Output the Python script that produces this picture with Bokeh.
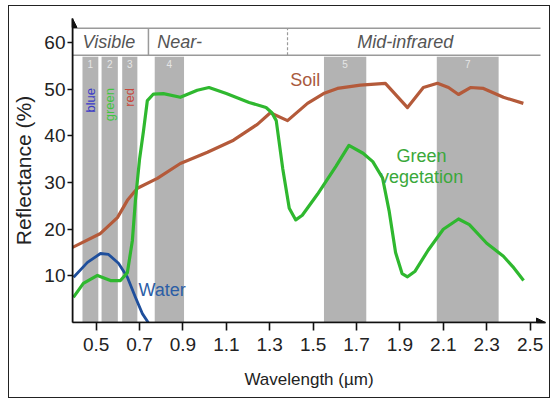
import math
from bokeh.plotting import figure
from bokeh.models import FixedTicker, Range1d, Arrow, NormalHead, Label
from bokeh.embed import file_html
from bokeh.resources import INLINE

# ---------------- data ----------------
green_wl = [0.395, 0.441, 0.506, 0.566, 0.612, 0.644, 0.667, 0.681, 0.700, 0.718, 0.736, 0.764,
            0.810, 0.888, 0.966, 1.020, 1.100, 1.205, 1.283, 1.310, 1.330, 1.360, 1.390, 1.420,
            1.450, 1.520, 1.605, 1.665, 1.730, 1.775, 1.820, 1.850, 1.880, 1.910, 1.935, 1.970,
            2.030, 2.100, 2.170, 2.220, 2.300, 2.377, 2.420, 2.470]
green_refl = [5.4, 8.4, 10.1, 9.0, 9.0, 10.7, 17.6, 26.2, 35.0, 41.0, 47.6, 49.0,
              49.1, 48.3, 49.8, 50.4, 49.1, 47.2, 46.1, 45.0, 43.3, 33.0, 24.5, 22.0,
              23.0, 27.5, 33.5, 38.0, 36.3, 34.5, 31.0, 24.0, 15.0, 10.5, 9.8, 11.0,
              15.5, 20.0, 22.2, 21.0, 17.0, 14.2, 12.0, 9.0]

soil_wl = [0.391, 0.520, 0.598, 0.644, 0.690, 0.782, 0.888, 1.013, 1.133, 1.243, 1.303,
           1.382, 1.474, 1.548, 1.612, 1.718, 1.833, 1.935, 2.008, 2.073, 2.124, 2.170,
           2.225, 2.285, 2.377, 2.469]
soil_refl = [16.1, 19.1, 22.5, 26.2, 28.8, 30.9, 34.1, 36.5, 39.1, 42.5, 45.0,
             43.3, 47.0, 49.1, 50.2, 50.9, 51.3, 46.1, 50.4, 51.3, 50.4, 48.9,
             50.4, 50.2, 48.3, 47.0]

water_wl = [0.396, 0.460, 0.520, 0.557, 0.603, 0.644, 0.681, 0.713, 0.740]
water_refl = [9.7, 12.9, 14.8, 14.6, 12.7, 9.7, 5.4, 1.9, 0.0]

band_names = ["1", "2", "3", "4", "5", "7"]
band_left = [0.437, 0.525, 0.620, 0.770, 1.550, 2.070]
band_right = [0.510, 0.600, 0.690, 0.905, 1.745, 2.355]
visible_names = ["blue", "green", "red"]
visible_colors = ["#3b3bc8", "#3fc63f", "#c8463a"]

region_names = ["Visible", "Near-", "Mid-infrared"]

x_ticks = [0.5, 0.7, 0.9, 1.1, 1.3, 1.5, 1.7, 1.9, 2.1, 2.3, 2.5]
x_tick_labels = ["0.5", "0.7", "0.9", "1.1", "1.3", "1.5", "1.7", "1.9", "2.1", "2.3", "2.5"]
y_ticks = [10, 20, 30, 40, 50, 60]

# ---------------- styling ----------------
SANS = "Liberation Sans"
X0, X1 = 0.391, 2.571
Y0, Y1 = 0.0, 65.2

p = figure(width=542, height=393, x_range=Range1d(X0, X1), y_range=Range1d(Y0, Y1),
           toolbar_location=None, output_backend="svg",
           min_border_left=63, min_border_right=6, min_border_top=12, min_border_bottom=77)
p.margin = (5, 0, 0, 8)
p.styles = {"border": "1px solid #222222"}
p.outline_line_color = None
p.grid.visible = False
p.background_fill_color = "white"

# axes
for ax in (p.xaxis[0], p.yaxis[0]):
    ax.axis_line_width = 1.6
    ax.axis_line_color = "#111111"
    ax.major_tick_line_color = "#111111"
    ax.major_tick_line_width = 1.6
    ax.major_tick_in = 0
    ax.minor_tick_line_color = None
    ax.major_label_text_font = SANS
    ax.major_label_text_font_size = "19px"
    ax.major_label_text_color = "#222222"
    ax.axis_label_text_font = SANS
    ax.axis_label_text_font_style = "normal"
    ax.axis_label_text_color = "#222222"

p.xaxis.ticker = FixedTicker(ticks=x_ticks)
p.xaxis.major_label_overrides = {t: s for t, s in zip(x_ticks, x_tick_labels)}
p.xaxis.major_tick_out = 8
p.xaxis.major_label_standoff = 7
p.xaxis.axis_label = "Wavelength (µm)"
p.xaxis.axis_label_text_font_size = "17px"
p.xaxis.axis_label_standoff = 16

p.yaxis.ticker = FixedTicker(ticks=y_ticks)
p.yaxis.major_tick_out = 5
p.yaxis.major_label_standoff = 2
p.yaxis.axis_label = "Reflectance (%)"
p.yaxis.axis_label_text_font_size = "21px"
p.yaxis.axis_label_standoff = 6

# gray bands
p.quad(left=band_left, right=band_right, bottom=0, top=57.0,
       fill_color="#b3b3b3", line_color=None)
for name, l, r in zip(band_names, band_left, band_right):
    p.add_layout(Label(x=(l + r) / 2, y=55.4, text=name, text_align="center",
                       text_baseline="middle", text_font=SANS, text_font_size="10px",
                       text_color="#e6e6e6"))
for name, col, l, r in zip(visible_names, visible_colors, band_left[:3], band_right[:3]):
    p.add_layout(Label(x=(l + r) / 2, y=50.3, text=name, angle=math.pi / 2,
                       text_align="right", text_baseline="middle", text_font=SANS,
                       text_font_size="13px", text_color=col))

# header band
p.segment(x0=[X0, X0], y0=[57.3, 63.1], x1=[2.548, 2.548], y1=[57.3, 63.1],
          line_color="#9a9a9a", line_width=1.5)
p.segment(x0=[0.741], y0=[57.3], x1=[0.741], y1=[63.1], line_color="#9a9a9a", line_width=1.5)
p.segment(x0=[1.382], y0=[57.3], x1=[1.382], y1=[63.1], line_color="#9a9a9a",
          line_width=1.2, line_dash="3 2")
hdr = dict(text_baseline="middle", text_font=SANS, text_font_size="18px",
           text_font_style="italic", text_color="#555555")
p.add_layout(Label(x=0.559, y=60.2, text=region_names[0], text_align="center", **hdr))
p.add_layout(Label(x=0.782, y=60.2, text=region_names[1], text_align="left", **hdr))
p.add_layout(Label(x=1.925, y=60.2, text=region_names[2], text_align="center", **hdr))

# curves
p.line(soil_wl, soil_refl, line_color="#b45a3a", line_width=3.2, line_join="round")
p.line(water_wl, water_refl, line_color="#1f4f9c", line_width=2.8, line_join="round")
p.line(green_wl, green_refl, line_color="#2fb82f", line_width=3.2, line_join="round")

# curve labels
lab = dict(text_baseline="middle", text_font=SANS, text_font_size="18px")
p.add_layout(Label(x=1.395, y=52.0, text="Soil", text_align="left",
                   text_color="#a95a3e", **lab))
p.add_layout(Label(x=0.695, y=6.9, text="Water", text_align="left",
                   text_color="#2c5ea6", **lab))
p.add_layout(Label(x=2.0, y=35.8, text="Green", text_align="center",
                   text_color="#3aa83a", **lab))
p.add_layout(Label(x=2.0, y=31.1, text="vegetation", text_align="center",
                   text_color="#3aa83a", **lab))

# axis arrows
p.add_layout(Arrow(end=NormalHead(size=9, fill_color="#111111", line_color="#111111"),
                   x_start=X0, y_start=0, x_end=X1, y_end=0,
                   line_color="#111111", line_width=1.6))
p.add_layout(Arrow(end=NormalHead(size=9, fill_color="#111111", line_color="#111111"),
                   x_start=X0, y_start=0, x_end=X0, y_end=Y1,
                   line_color="#111111", line_width=1.6))

open("out.html", "w").write(file_html(p, INLINE))
